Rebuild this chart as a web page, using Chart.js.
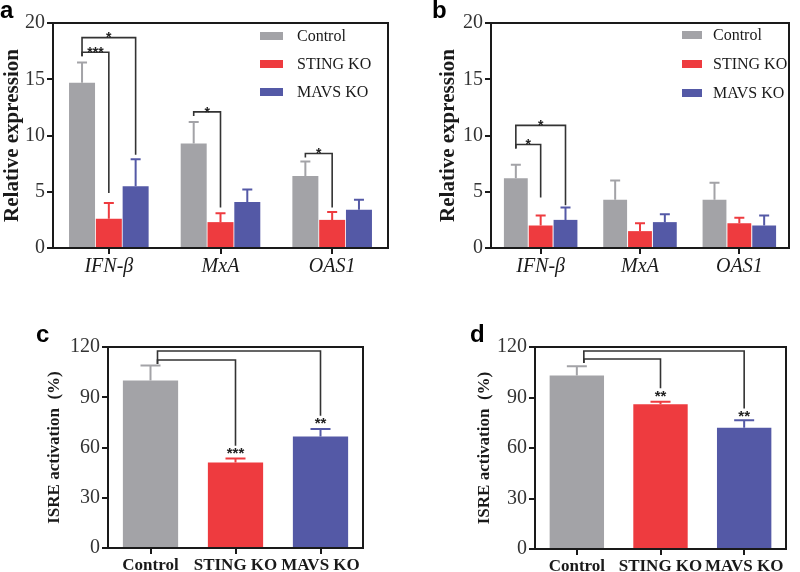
<!DOCTYPE html>
<html>
<head>
<meta charset="utf-8">
<script src="https://cdn.jsdelivr.net/npm/chart.js@4.4.0/dist/chart.umd.min.js"></script>
<style>
  body { margin: 0; background: #fff; width: 800px; height: 572px; position: relative; overflow: hidden; }
  .panel { position: absolute; }
</style>
</head>
<body>
<div class="panel" style="left:0;top:0"><canvas id="chartA" width="400" height="290"></canvas></div>
<div class="panel" style="left:400px;top:0"><canvas id="chartB" width="400" height="290"></canvas></div>
<div class="panel" style="left:0;top:290px"><canvas id="chartC" width="400" height="282"></canvas></div>
<div class="panel" style="left:400px;top:290px"><canvas id="chartD" width="400" height="282"></canvas></div>
<script>
// categories
var genes = ['IFN-β', 'MxA', 'OAS1'];
var groups = ['Control', 'STING KO', 'MAVS KO'];
var colors = ['#a3a3a7', '#ee3b3f', '#5459a6'];

// panel a - relative expression (mean, sd)
var aControl = [14.7, 9.3, 6.4];
var aControlSd = [1.8, 1.9, 1.3];
var aSting = [2.6, 2.3, 2.5];
var aStingSd = [1.4, 0.8, 0.7];
var aMavs = [5.5, 4.1, 3.4];
var aMavsSd = [2.4, 1.1, 0.9];

// panel b
var bControl = [6.2, 4.3, 4.3];
var bControlSd = [1.2, 1.7, 1.5];
var bSting = [2.0, 1.5, 2.2];
var bStingSd = [0.9, 0.7, 0.5];
var bMavs = [2.5, 2.3, 2.0];
var bMavsSd = [1.1, 0.7, 0.9];

// panel c, d - ISRE activation (%)
var cValues = [100, 51, 66.5];
var cSd = [9, 2.5, 4.5];
var dValues = [103, 86, 72];
var dSd = [5.5, 1.5, 4.5];

// significance brackets: a/b = [dataset, index], level + end in data units
var sigA = [
  { a: [0, 0], b: [1, 0], level: 17.4, end: 4.9, text: '***' },
  { a: [0, 0], b: [2, 0], level: 18.7, end: 8.3, text: '*' },
  { a: [0, 1], b: [1, 1], level: 12.1, end: 3.6, text: '*' },
  { a: [0, 2], b: [1, 2], level: 8.4, end: 3.6, text: '*' }
];
var sigB = [
  { a: [0, 0], b: [1, 0], level: 9.2, end: 4.5, text: '*' },
  { a: [0, 0], b: [2, 0], level: 10.9, end: 3.8, text: '*' }
];
var sigC = [
  { a: [0, 0], b: [0, 1], level: 112.2, end: 61, text: '***' },
  { a: [0, 0], b: [0, 2], level: 117.6, end: 79, text: '**' }
];
var sigD = [
  { a: [0, 0], b: [0, 1], level: 112.9, end: 95.5, text: '**' },
  { a: [0, 0], b: [0, 2], level: 117.6, end: 83.5, text: '**' }
];

var serif = '"Liberation Serif", "Times New Roman", serif';
var sans = '"Liberation Sans", Arial, sans-serif';
var ink = '#1a1a1a';
Chart.defaults.font.family = serif;

// frame, error bars, brackets, legend and panel letter
var extras = {
  id: 'extras',
  afterDatasetsDraw: function(chart, args, opts) {
    var ctx = chart.ctx, y = chart.scales.y;
    ctx.save();
    ctx.lineWidth = 2;
    chart.data.datasets.forEach(function(ds, i) {
      var meta = chart.getDatasetMeta(i);
      meta.data.forEach(function(bar, j) {
        var col = Array.isArray(ds.backgroundColor) ? ds.backgroundColor[j] : ds.backgroundColor;
        var top = y.getPixelForValue(ds.data[j] + ds.sd[j]);
        ctx.strokeStyle = col;
        ctx.beginPath();
        ctx.moveTo(bar.x, bar.y);
        ctx.lineTo(bar.x, top);
        ctx.moveTo(bar.x - opts.cap / 2, top);
        ctx.lineTo(bar.x + opts.cap / 2, top);
        ctx.stroke();
      });
    });
    ctx.restore();
  },
  afterDraw: function(chart, args, opts) {
    var ctx = chart.ctx, area = chart.chartArea, y = chart.scales.y;
    ctx.save();
    ctx.strokeStyle = ink;
    ctx.lineWidth = 2;
    ctx.beginPath();
    ctx.moveTo(area.left - 1, area.top);
    ctx.lineTo(area.right, area.top);
    ctx.lineTo(area.right, area.bottom + 1);
    ctx.stroke();

    // brackets
    var sig = opts.sig || [];
    ctx.strokeStyle = '#333';
    ctx.fillStyle = '#222';
    ctx.lineWidth = 1.6;
    ctx.font = 'bold ' + opts.starSize + 'px ' + sans;
    ctx.textAlign = 'center';
    sig.forEach(function(s) {
      var barA = chart.getDatasetMeta(s.a[0]).data[s.a[1]];
      var barB = chart.getDatasetMeta(s.b[0]).data[s.b[1]];
      var x1 = barA.x + opts.originShift, x2 = barB.x;
      var yl = y.getPixelForValue(s.level), ye = y.getPixelForValue(s.end);
      var lowest = yl;
      sig.forEach(function(t) {
        if (t.a[0] === s.a[0] && t.a[1] === s.a[1]) lowest = Math.max(lowest, y.getPixelForValue(t.level));
      });
      ctx.beginPath();
      ctx.moveTo(x1, lowest + 4);
      ctx.lineTo(x1, yl);
      ctx.lineTo(x2, yl);
      ctx.lineTo(x2, ye);
      ctx.stroke();
      if (opts.starAt === 'end') {
        ctx.textBaseline = 'top';
        ctx.fillText(s.text, x2, ye + 1);
      } else {
        ctx.textBaseline = 'alphabetic';
        ctx.fillText(s.text, (x1 + x2) / 2, yl + opts.starSize * 0.55 - 3);
      }
    });

    // legend inside plot
    if (opts.legend) {
      var L = opts.legend;
      ctx.font = '16px ' + serif;
      ctx.textAlign = 'left';
      ctx.textBaseline = 'middle';
      chart.data.datasets.forEach(function(ds, i) {
        var cy = L.y + i * L.step;
        ctx.fillStyle = ds.backgroundColor;
        ctx.fillRect(L.x, cy - 4, L.w, 8);
        ctx.fillStyle = ink;
        ctx.fillText(ds.label, L.tx, cy + 1);
      });
    }

    // panel letter
    ctx.font = 'bold 24px ' + sans;
    ctx.fillStyle = '#000';
    ctx.textAlign = 'left';
    ctx.textBaseline = 'alphabetic';
    ctx.fillText(opts.letter, opts.letterX, opts.letterY);
    ctx.restore();
  }
};

function axes(cfg) {
  return {
    x: {
      grid: { display: true, drawOnChartArea: false, offset: false, tickLength: 6, color: ink, lineWidth: 2 },
      border: { color: ink, width: 2 },
      ticks: { color: ink, padding: 1, font: cfg.xFont, maxRotation: 0, minRotation: 0, autoSkip: false },
      afterFit: function(s) { s.height = cfg.xHeight; }
    },
    y: {
      min: 0, max: cfg.max,
      grid: { display: true, drawOnChartArea: false, tickLength: 6, color: ink, lineWidth: 2 },
      border: { color: ink, width: 2 },
      ticks: { stepSize: cfg.step, color: '#333', padding: 2, font: { family: serif, size: 20 } },
      title: { display: true, text: cfg.title, color: ink, padding: 0, font: { family: serif, size: cfg.titleSize, weight: 'bold' } },
      afterFit: function(s) { s.width = cfg.yWidth; }
    }
  };
}

function grouped(ctrl, ctrlSd, sting, stingSd, mavs, mavsSd) {
  return {
    labels: genes,
    datasets: [
      { label: groups[0], data: ctrl, sd: ctrlSd, backgroundColor: colors[0] },
      { label: groups[1], data: sting, sd: stingSd, backgroundColor: colors[1] },
      { label: groups[2], data: mavs, sd: mavsSd, backgroundColor: colors[2] }
    ]
  };
}

var xItalic = { family: serif, size: 20, style: 'italic' };
var xBold = { family: serif, size: 17, weight: 'bold' };

new Chart(document.getElementById('chartA'), {
  type: 'bar',
  data: grouped(aControl, aControlSd, aSting, aStingSd, aMavs, aMavsSd),
  options: {
    responsive: false, animation: false,
    categoryPercentage: 0.72, barPercentage: 0.97,
    layout: { padding: { left: 0, top: 23, right: 12, bottom: 0 } },
    scales: axes({ max: 20, step: 5, title: 'Relative expression', titleSize: 21, yWidth: 53, xHeight: 42, xFont: xItalic }),
    plugins: {
      legend: { display: false }, tooltip: { enabled: false },
      extras: { sig: sigA, cap: 10, starSize: 14, starAt: 'mid', originShift: 0,
        legend: { x: 260, w: 23, tx: 297, y: 36, step: 28 },
        letter: 'a', letterX: 0, letterY: 18 }
    }
  },
  plugins: [extras]
});

new Chart(document.getElementById('chartB'), {
  type: 'bar',
  data: grouped(bControl, bControlSd, bSting, bStingSd, bMavs, bMavsSd),
  options: {
    responsive: false, animation: false,
    categoryPercentage: 0.75, barPercentage: 0.96,
    layout: { padding: { left: 36, top: 23, right: 11, bottom: 0 } },
    scales: axes({ max: 20, step: 5, title: 'Relative expression', titleSize: 21, yWidth: 55, xHeight: 42, xFont: xItalic }),
    plugins: {
      legend: { display: false }, tooltip: { enabled: false },
      extras: { sig: sigB, cap: 10, starSize: 14, starAt: 'mid', originShift: 0,
        legend: { x: 282, w: 20, tx: 313, y: 35, step: 29 },
        letter: 'b', letterX: 32, letterY: 18 }
    }
  },
  plugins: [extras]
});

new Chart(document.getElementById('chartC'), {
  type: 'bar',
  data: { labels: groups, datasets: [{ label: 'ISRE', data: cValues, sd: cSd, backgroundColor: colors }] },
  options: {
    responsive: false, animation: false,
    categoryPercentage: 0.65, barPercentage: 1,
    layout: { padding: { left: 44, top: 57, right: 37, bottom: 0 } },
    scales: axes({ max: 120, step: 30, title: 'ISRE activation  (%)', titleSize: 17, yWidth: 64, xHeight: 24, xFont: xBold }),
    plugins: {
      legend: { display: false }, tooltip: { enabled: false },
      extras: { sig: sigC, cap: 20, starSize: 15, starAt: 'end', originShift: 7,
        letter: 'c', letterX: 36, letterY: 52 }
    }
  },
  plugins: [extras]
});

new Chart(document.getElementById('chartD'), {
  type: 'bar',
  data: { labels: groups, datasets: [{ label: 'ISRE', data: dValues, sd: dSd, backgroundColor: colors }] },
  options: {
    responsive: false, animation: false,
    categoryPercentage: 0.65, barPercentage: 1,
    layout: { padding: { left: 74, top: 57, right: 14, bottom: 0 } },
    scales: axes({ max: 120, step: 30, title: 'ISRE activation  (%)', titleSize: 17, yWidth: 61, xHeight: 23, xFont: xBold }),
    plugins: {
      legend: { display: false }, tooltip: { enabled: false },
      extras: { sig: sigD, cap: 20, starSize: 15, starAt: 'end', originShift: 7,
        letter: 'd', letterX: 70, letterY: 52 }
    }
  },
  plugins: [extras]
});
</script>
</body>
</html>
